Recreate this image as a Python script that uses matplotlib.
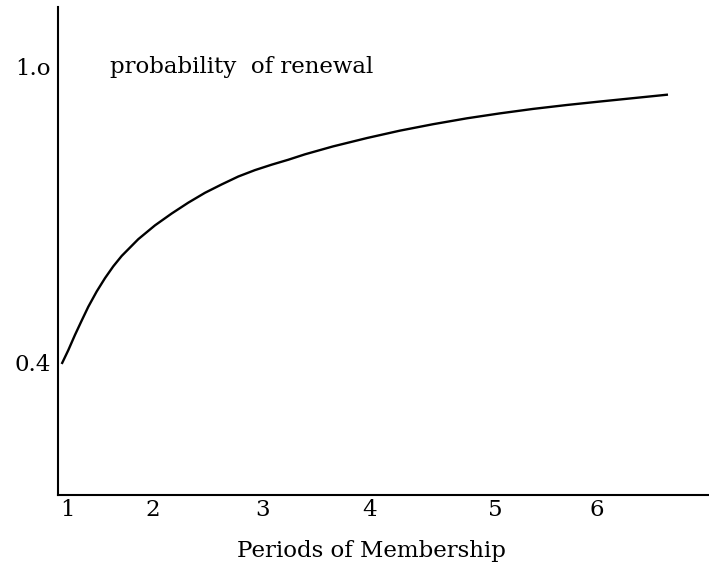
import matplotlib
matplotlib.use('Agg')
import matplotlib.pyplot as plt

# ----- data -----
period = [0.947, 1.013, 1.08, 1.147, 1.213, 1.297, 1.38, 1.463, 1.547, 1.713,
          1.88, 2.047, 2.213, 2.38, 2.547, 2.713, 2.88, 3.047, 3.213, 3.38,
          3.66, 4.0, 4.33, 4.66, 5.0, 5.33, 5.66, 6.0, 6.33, 6.67, 7.01]
p_renew = [0.398, 0.426, 0.457, 0.486, 0.514, 0.545, 0.572, 0.596, 0.617, 0.651,
           0.679, 0.703, 0.725, 0.745, 0.762, 0.778, 0.791, 0.802, 0.812, 0.823,
           0.839, 0.856, 0.871, 0.884, 0.896, 0.906, 0.915, 0.923, 0.930, 0.937, 0.944]
xtick_pos = [1.0, 1.86, 2.96, 4.03, 5.28, 6.30]
xtick_lab = ['1', '2', '3', '4', '5', '6']
ytick_pos = [0.4, 1.0]
ytick_lab = ['0.4', '1.o']

plt.rcParams['font.family'] = ['DejaVu Serif']
fs = 16.5

fig = plt.figure(figsize=(7.09, 5.62), dpi=100)
ax = fig.add_axes([58/709, 67/562, 651/709, 488/562])

ax.plot(period, p_renew, color='black', lw=1.7, solid_capstyle='butt', solid_joinstyle='round')

ax.set_xlim(0.91, 7.42)
ax.set_ylim(0.1324, 1.1216)
for s in ['top', 'right']:
    ax.spines[s].set_visible(False)
for s in ['left', 'bottom']:
    ax.spines[s].set_linewidth(1.5)

ax.set_xticks(xtick_pos, labels=xtick_lab)
ax.set_yticks(ytick_pos, labels=ytick_lab)
ax.tick_params(axis='both', length=0, labelsize=fs)
ax.tick_params(axis='x', pad=3)
ax.tick_params(axis='y', pad=5)

ax.set_xlabel('Periods of Membership', fontsize=fs)
ax.xaxis.set_label_coords(0.481, -0.093)
ax.text(1.43, 1.0, 'probability  of renewal', fontsize=fs, ha='left', va='center')

plt.savefig('out.png', dpi=100, facecolor='w')
